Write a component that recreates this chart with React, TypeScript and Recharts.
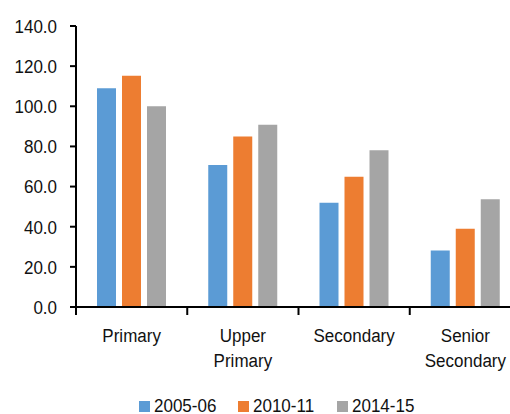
import React from "react";
import { BarChart, Bar, XAxis, YAxis, Legend } from "recharts";

const categories = ["Primary", "Upper Primary", "Secondary", "Senior Secondary"];
const series2005 = [109.0, 70.7, 51.9, 28.2];
const series2010 = [115.2, 85.0, 64.9, 39.0];
const series2014 = [100.0, 90.8, 78.1, 53.7];
const seriesNames = ["2005-06", "2010-11", "2014-15"];
const yTicks = [0, 20, 40, 60, 80, 100, 120, 140];
const colors = ["#5B9BD5", "#ED7D31", "#A5A5A5"];

const data = categories.map((c, i) => ({
  category: c,
  s0: series2005[i],
  s1: series2010[i],
  s2: series2014[i],
}));

const FONT = "'Liberation Sans', Arial, sans-serif";
const TEXT = "#111";
const STRETCH = 1.13;

const CategoryTick = (props: any) => {
  const { x, y, payload, index, visibleTicksCount } = props;
  const half = payload && typeof payload.offset === "number" && payload.offset > 0 ? payload.offset : 55.6;
  const lines = String(payload.value).split(" ");
  const axisY = y - 8;
  return (
    <g>
      <line x1={x - half} x2={x - half} y1={axisY} y2={axisY + 8} stroke="#000" strokeWidth={2} />
      {index === (visibleTicksCount ?? 4) - 1 && (
        <line x1={x + half} x2={x + half} y1={axisY} y2={axisY + 8} stroke="#000" strokeWidth={2} />
      )}
      {lines.map((l, i) => (
        <text
          key={i}
          x={0}
          y={0}
          transform={`translate(${x},${y + 27 + i * 24.5}) scale(1,${STRETCH})`}
          textAnchor="middle"
          fontSize={17}
          fontFamily={FONT}
          fill={TEXT}
        >
          {l}
        </text>
      ))}
    </g>
  );
};

const ValueTick = (props: any) => {
  const { x, y, payload } = props;
  return (
    <text
      x={0}
      y={0}
      dy="0.355em"
      transform={`translate(${x},${y}) scale(1,${STRETCH})`}
      textAnchor="end"
      fontSize={17}
      fontFamily={FONT}
      fill={TEXT}
    >
      {Number(payload.value).toFixed(1)}
    </text>
  );
};

const LegendContent = (props: any) => {
  const payload = props.payload || [];
  return (
    <div
      style={{
        display: "flex",
        height: 24,
        boxSizing: "border-box",
        paddingLeft: 139,
        paddingTop: 8,
        fontFamily: FONT,
        fontSize: 17,
        lineHeight: "17px",
        color: TEXT,
      }}
    >
      {payload.map((p: any) => (
        <div key={p.value} style={{ width: 99, display: "flex", alignItems: "center" }}>
          <span style={{ display: "inline-block", width: 11, height: 11, background: p.color, marginRight: 4 }} />
          <span
            style={{
              display: "inline-block",
              transform: `scaleY(${STRETCH})`,
              transformOrigin: "50% 80%",
            }}
          >
            {p.value}
          </span>
        </div>
      ))}
    </div>
  );
};

export default function App() {
  return (
    <div
      style={{
        position: "fixed",
        left: 0,
        top: 0,
        width: 510,
        height: 414,
        overflow: "hidden",
        background: "#fff",
      }}
    >
      <BarChart
        width={530}
        height={414}
        data={data}
        margin={{ top: 26, right: 9, left: 0, bottom: 0 }}
        barSize={19}
        barGap={6}
      >
        <XAxis
          dataKey="category"
          height={83}
          tickLine={false}
          tickSize={8}
          tickMargin={0}
          axisLine={{ stroke: "#000", strokeWidth: 2 }}
          tick={<CategoryTick />}
          interval={0}
        />
        <YAxis
          width={76}
          domain={[0, 140]}
          ticks={yTicks}
          interval={0}
          tickSize={6}
          tickMargin={13}
          axisLine={{ stroke: "#000", strokeWidth: 2 }}
          tickLine={{ stroke: "#000", strokeWidth: 2 }}
          tick={<ValueTick />}
        />
        <Legend
          verticalAlign="bottom"
          content={<LegendContent />}
          wrapperStyle={{ left: 0, width: 530, bottom: 0 }}
        />
        <Bar dataKey="s0" name={seriesNames[0]} fill={colors[0]} isAnimationActive={false} />
        <Bar dataKey="s1" name={seriesNames[1]} fill={colors[1]} isAnimationActive={false} />
        <Bar dataKey="s2" name={seriesNames[2]} fill={colors[2]} isAnimationActive={false} />
      </BarChart>
    </div>
  );
}
